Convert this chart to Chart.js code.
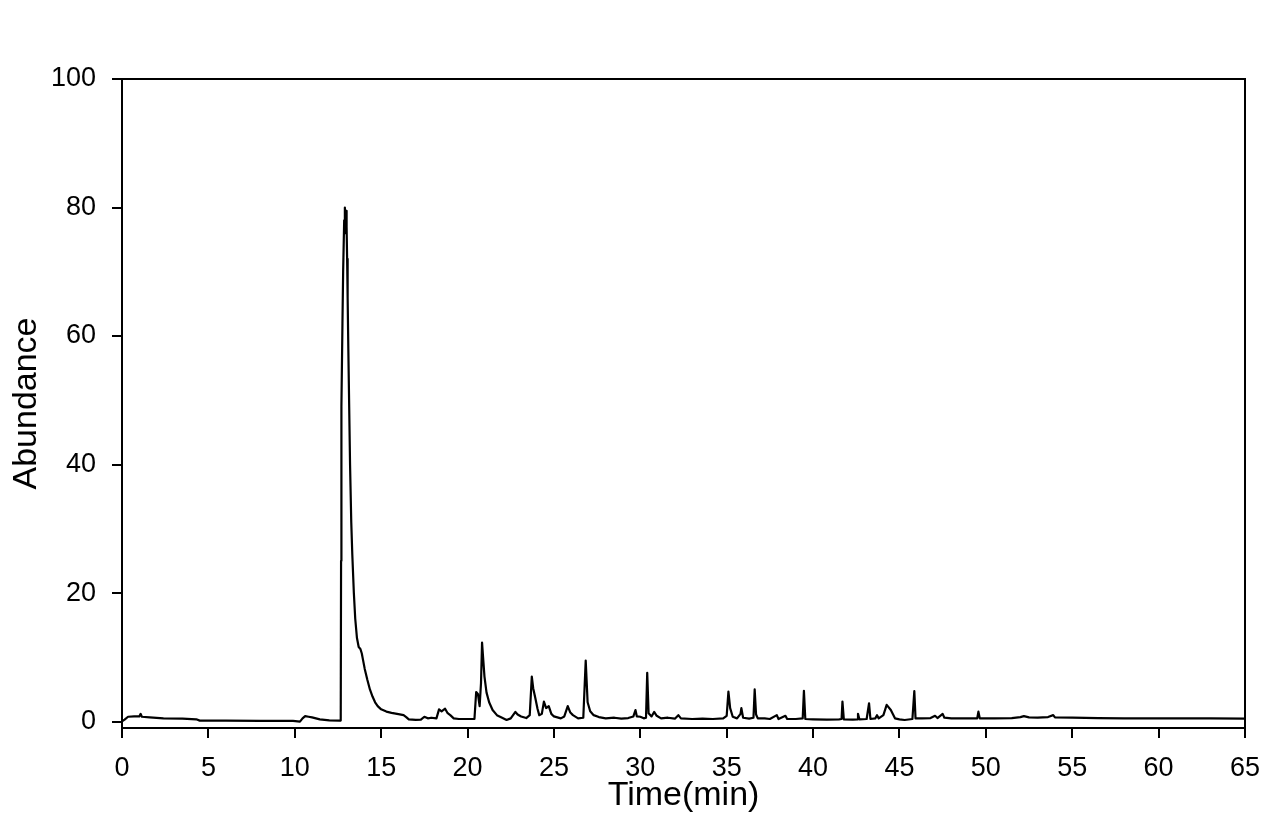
<!DOCTYPE html>
<html>
<head>
<meta charset="utf-8">
<script src="https://cdn.jsdelivr.net/npm/chart.js@4/dist/chart.umd.min.js"></script>
<style>
  html, body { margin: 0; padding: 0; background: #fff; }
  #wrap { width: 1286px; height: 819px; }
</style>
</head>
<body>
<div id="wrap"><canvas id="c" width="1286" height="819"></canvas></div>
<script>
// Retention time (min)
const timeMin = [
  0.00, 0.15, 0.35, 0.7, 1.0, 1.08, 1.15, 1.6, 2.4, 3.5, 4.3, 4.5, 6.0, 8.0, 9.9,
  10.3, 10.45, 10.6, 10.8, 11.0, 11.45, 12.0, 12.6, 12.66, 12.68, 12.7, 12.76, 12.8, 12.86, 12.9,
  12.94, 12.97, 13.0, 13.03, 13.06, 13.1, 13.15, 13.2, 13.27, 13.33, 13.42, 13.5, 13.6, 13.7, 13.8,
  13.88, 13.95, 14.05, 14.2, 14.35, 14.5, 14.65, 14.8, 15.0, 15.3, 15.6, 16.0, 16.3, 16.45, 16.6,
  17.0, 17.3, 17.5, 17.7, 17.9, 18.2, 18.35, 18.5, 18.7, 18.85, 19.0, 19.2, 19.5, 20.0, 20.4,
  20.5, 20.6, 20.7, 20.78, 20.84, 20.9, 20.98, 21.1, 21.25, 21.45, 21.7, 22.0, 22.26, 22.5, 22.77,
  22.9, 23.1, 23.4, 23.6, 23.72, 23.8, 23.92, 24.05, 24.15, 24.3, 24.42, 24.55, 24.7, 24.85, 25.0,
  25.4, 25.6, 25.8, 25.95, 26.1, 26.4, 26.7, 26.84, 26.95, 27.1, 27.3, 27.6, 28.0, 28.5, 28.9,
  29.3, 29.6, 29.72, 29.8, 30.0, 30.2, 30.33, 30.4, 30.48, 30.65, 30.8, 30.95, 31.2, 31.6, 32.0,
  32.2, 32.35, 33.0, 33.6, 34.2, 34.8, 35.0, 35.1, 35.2, 35.35, 35.6, 35.8, 35.85, 35.95, 36.3,
  36.55, 36.62, 36.7, 36.8, 37.2, 37.5, 37.9, 38.0, 38.4, 38.5, 39.0, 39.4, 39.47, 39.55, 40.0,
  40.8, 41.5, 41.65, 41.7, 41.78, 42.3, 42.55, 42.6, 42.68, 43.1, 43.24, 43.32, 43.6, 43.7, 43.8,
  44.07, 44.26, 44.5, 44.74, 45.0, 45.3, 45.75, 45.86, 45.93, 46.3, 46.8, 47.06, 47.2, 47.5, 47.6,
  48.0, 49.0, 49.5, 49.57, 49.65, 50.5, 51.5, 52.0, 52.2, 52.5, 53.0, 53.6, 53.9, 54.0, 55.0,
  56.5, 58.0, 60.1, 63.0, 65.0
];
// Abundance
const abundance = [
  0.05, 0.3, 0.75, 0.8, 0.8, 1.2, 0.75, 0.65, 0.5, 0.45, 0.35, 0.15, 0.15, 0.12, 0.1,
  0.0, 0.5, 0.85, 0.75, 0.65, 0.35, 0.2, 0.15, 0.15, 25, 49, 62, 70, 78, 80,
  76, 79.5, 77, 72, 66, 58, 49, 40, 31, 26, 20, 16, 13, 11.6, 11.3,
  10.6, 9.6, 8.2, 6.5, 5.0, 3.9, 3.0, 2.4, 1.9, 1.55, 1.35, 1.15, 1.0, 0.7, 0.35,
  0.25, 0.3, 0.75, 0.5, 0.6, 0.5, 1.9, 1.6, 2.0, 1.3, 1.0, 0.5, 0.4, 0.4, 0.4,
  4.6, 4.3, 2.4, 6, 12.3, 10, 7, 4.5, 3.0, 1.8, 1.0, 0.6, 0.25, 0.5, 1.5,
  1.1, 0.8, 0.55, 1.0, 7.0, 5.2, 3.7, 2.0, 1.0, 1.2, 3.1, 2.1, 2.4, 1.2, 0.8,
  0.5, 0.8, 2.4, 1.4, 1.0, 0.5, 0.6, 9.5, 3.0, 1.6, 1.0, 0.7, 0.5, 0.6, 0.45,
  0.55, 0.8, 1.8, 0.8, 0.75, 0.5, 0.6, 7.6, 1.3, 0.8, 1.5, 0.9, 0.5, 0.6, 0.45,
  1.0, 0.5, 0.4, 0.45, 0.4, 0.5, 0.9, 4.65, 2.1, 0.75, 0.5, 1.2, 2.1, 0.6, 0.45,
  0.6, 5.0, 1.1, 0.5, 0.5, 0.4, 1.0, 0.4, 0.9, 0.4, 0.4, 0.5, 4.8, 0.4, 0.35,
  0.3, 0.35, 0.4, 3.1, 0.35, 0.3, 0.35, 1.2, 0.35, 0.4, 2.85, 0.4, 0.5, 1.0, 0.5,
  1.0, 2.6, 1.8, 0.5, 0.35, 0.25, 0.4, 4.75, 0.5, 0.5, 0.55, 0.9, 0.55, 1.2, 0.6,
  0.5, 0.5, 0.5, 1.55, 0.5, 0.5, 0.55, 0.7, 0.85, 0.65, 0.6, 0.7, 1.0, 0.65, 0.6,
  0.55, 0.5, 0.5, 0.5, 0.45
];
const xTicks = [0, 5, 10, 15, 20, 25, 30, 35, 40, 45, 50, 55, 60, 65];
const yTicks = [0, 20, 40, 60, 80, 100];

const points = timeMin.map((t, i) => ({ x: t, y: abundance[i] }));

const FONT = '"Liberation Sans", Arial, sans-serif';

const frame = {
  id: 'frame',
  afterDraw(chart) {
    const { ctx, chartArea: a } = chart;
    ctx.save();
    ctx.strokeStyle = '#000';
    ctx.lineWidth = 2;
    ctx.beginPath();
    ctx.moveTo(a.left, a.top);
    ctx.lineTo(a.right, a.top);
    ctx.lineTo(a.right, a.bottom);
    ctx.stroke();
    ctx.restore();
  }
};

new Chart(document.getElementById('c'), {
  type: 'line',
  data: {
    datasets: [{
      data: points,
      borderColor: '#000',
      borderWidth: 2.2,
      pointRadius: 0,
      tension: 0,
      fill: false,
      borderJoinStyle: 'round'
    }]
  },
  options: {
    responsive: false,
    devicePixelRatio: 1,
    animation: false,
    parsing: false,
    layout: { padding: { left: 0, top: 79, right: 41, bottom: 0 } },
    plugins: { legend: { display: false }, tooltip: { enabled: false } },
    scales: {
      x: {
        type: 'linear',
        min: 0, max: 65,
        afterBuildTicks: (axis) => { axis.ticks = xTicks.map(v => ({ value: v })); },
        afterFit: (axis) => { axis.height = 91; },
        grid: { drawOnChartArea: false, drawTicks: true, tickLength: 10, color: '#000', lineWidth: 2 },
        border: { display: true, color: '#000', width: 2 },
        ticks: { color: '#000', font: { family: FONT, size: 27 }, padding: 14, maxRotation: 0, autoSkip: false },
        title: { display: true, text: 'Time(min)', color: '#000', font: { family: FONT, size: 34 }, padding: { top: 0, bottom: 3 } }
      },
      y: {
        type: 'linear',
        min: -1, max: 100,
        afterBuildTicks: (axis) => { axis.ticks = yTicks.map(v => ({ value: v })); },
        afterFit: (axis) => { axis.width = 122; },
        grid: { drawOnChartArea: false, drawTicks: true, tickLength: 10, color: '#000', lineWidth: 2 },
        border: { display: true, color: '#000', width: 2 },
        ticks: { color: '#000', font: { family: FONT, size: 27 }, padding: 16, autoSkip: false },
        title: { display: true, text: 'Abundance', color: '#000', font: { family: FONT, size: 34 }, padding: { top: 6, bottom: 0 } }
      }
    }
  },
  plugins: [frame]
});
</script>
</body>
</html>
